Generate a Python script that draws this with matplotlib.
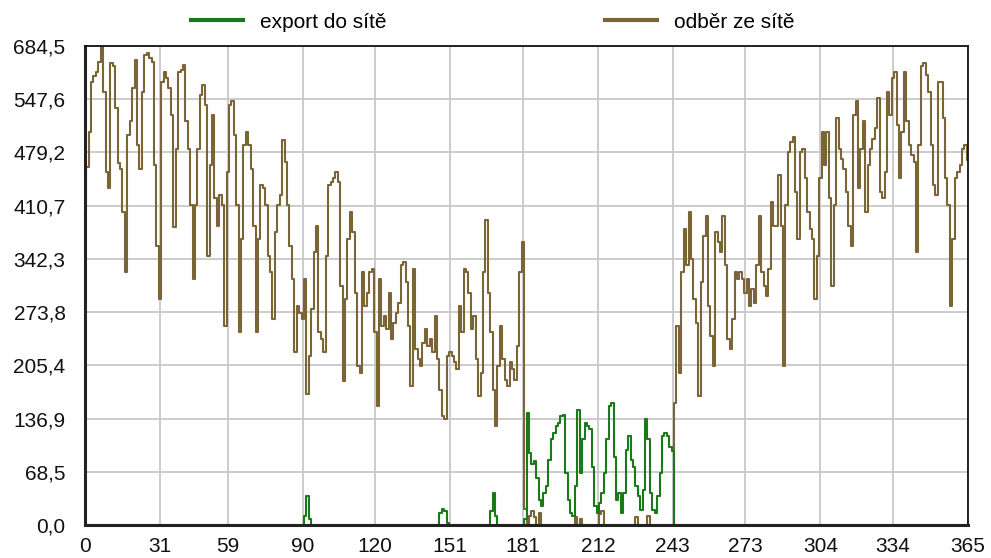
import numpy as np
import matplotlib.pyplot as plt
from matplotlib.lines import Line2D

plt.rcParams['font.family'] = ['Liberation Sans', 'DejaVu Sans']

# day of year 0..365
days = list(range(366))

# odber ze site (grid draw), one value per day
odber = [
    405, 460, 505, 570, 577, 583, 596, 616, 557, 454,
    433, 594, 590, 536, 465, 458, 402, 325, 501, 519,
    562, 598, 489, 458, 557, 605, 607, 600, 596, 463,
    359, 291, 570, 583, 575, 562, 527, 383, 484, 583,
    585, 592, 519, 484, 411, 316, 411, 484, 553, 566,
    540, 346, 463, 527, 420, 385, 424, 411, 256, 454,
    540, 545, 501, 411, 248, 368, 489, 506, 489, 458,
    385, 248, 368, 437, 433, 411, 346, 325, 265, 377,
    411, 424, 495, 467, 411, 359, 316, 222, 282, 273,
    265, 316, 168, 217, 278, 351, 385, 248, 239, 222,
    346, 437, 441, 446, 454, 441, 308, 185, 291, 368,
    402, 377, 299, 204, 196, 325, 282, 299, 325, 329,
    248, 153, 316, 256, 269, 252, 299, 239, 260, 273,
    286, 334, 338, 312, 256, 179, 329, 226, 213, 204,
    234, 252, 230, 239, 222, 269, 213, 174, 140, 136,
    217, 222, 217, 209, 200, 282, 248, 329, 325, 299,
    252, 269, 213, 166, 196, 325, 392, 299, 248, 174,
    127, 204, 256, 213, 187, 179, 209, 200, 187, 230,
    325, 364, 20, 0, 12, 18, 10, 0, 15, 0,
    0, 0, 0, 0, 0, 0, 0, 0, 0, 0,
    0, 0, 0, 10, 0, 8, 0, 0, 0, 0,
    0, 0, 0, 14, 18, 0, 0, 0, 0, 0,
    0, 0, 0, 0, 0, 0, 0, 0, 10, 0,
    0, 0, 0, 12, 0, 0, 0, 0, 0, 0,
    0, 0, 0, 0, 157, 256, 196, 325, 381, 334,
    402, 342, 291, 260, 166, 312, 372, 398, 282, 243,
    204, 377, 364, 351, 398, 334, 239, 226, 265, 325,
    316, 325, 316, 299, 316, 282, 303, 286, 334, 398,
    325, 308, 295, 329, 415, 385, 385, 450, 385, 204,
    411, 480, 493, 499, 428, 368, 480, 484, 446, 402,
    381, 368, 291, 346, 446, 506, 463, 506, 420, 308,
    411, 523, 484, 471, 458, 428, 385, 359, 527, 545,
    433, 484, 519, 402, 463, 484, 497, 510, 549, 428,
    420, 454, 557, 527, 575, 583, 514, 446, 506, 583,
    519, 489, 476, 467, 351, 489, 590, 594, 579, 557,
    489, 437, 424, 570, 570, 523, 446, 411, 282, 368,
    446, 454, 463, 484, 489, 470,
]

# export do site - only days with non-zero values
export_days = [91, 92, 93,
               147, 148, 149, 150,
               168, 169, 170,
               182, 183, 184, 185, 186, 187, 188, 189,
               190, 191, 192, 193, 194, 195, 196, 197, 198, 199,
               200, 201, 202, 203, 204, 205, 206, 207, 208, 209,
               210, 211, 212, 213, 214, 215, 216, 217, 218, 219,
               220, 221, 222, 223, 224, 225, 226, 227, 228, 229,
               230, 231, 232, 233, 234, 235, 236, 237, 238, 239,
               240, 241, 242, 243]
export_vals = [12, 37, 8,
               15, 21, 18, 3,
               18, 41, 12,
               8, 144, 93, 79, 82, 60, 32, 24,
               41, 50, 84, 110, 118, 127, 131, 140, 142, 67,
               32, 15, 11, 50, 148, 67, 110, 131, 127, 123,
               75, 24, 15, 28, 41, 67, 110, 153, 157, 88,
               32, 41, 15, 41, 97, 114, 84, 75, 50, 37,
               19, 45, 136, 110, 41, 19, 15, 37, 67, 114,
               118, 114, 100, 95]

x_ticks = [0, 31, 59, 90, 120, 151, 181, 212, 243, 273, 304, 334, 365]
y_ticks = [0, 68.45, 136.9, 205.35, 273.8, 342.25, 410.7, 479.15, 547.6, 616.05]
y_labels = ['0,0', '68,5', '136,9', '205,4', '273,8', '342,3', '410,7',
            '479,2', '547,6', '684,5']

export = np.zeros(len(days))
export[export_days] = export_vals

brown = '#7a6536'
green = '#1a7a1a'

fig = plt.figure(figsize=(9.91, 5.58), dpi=100)
ax = fig.add_axes([85 / 991, 1 - 525 / 558, (968 - 85) / 991, (525 - 46) / 558])

ax.plot(days, odber, drawstyle='steps-mid', color=brown, lw=1.5)
ax.plot(days, export, drawstyle='steps-mid', color=green, lw=1.5)

ax.set_xlim(0, 365)
ax.set_ylim(0, 616.05)
ax.set_xticks(x_ticks)
ax.set_xticklabels([str(t) for t in x_ticks])
ax.set_yticks(y_ticks)
ax.set_yticklabels(y_labels)
ax.grid(color='#c8c8c8', lw=1.3)
ax.set_axisbelow(True)
ax.tick_params(length=0, labelsize=15, colors='#111111')
ax.tick_params(axis='y', pad=14)
ax.tick_params(axis='x', pad=9)

for side in ['left', 'bottom']:
    ax.spines[side].set_linewidth(2.2)
    ax.spines[side].set_color('#222222')
for side in ['top', 'right']:
    ax.spines[side].set_linewidth(1.3)
    ax.spines[side].set_color('#111111')

handles = [Line2D([], [], color=green, lw=3),
           Line2D([], [], color=brown, lw=3)]
fig.legend(handles, ['export do sítě', 'odběr ze sítě'],
           loc='center', bbox_to_anchor=(0.497, 1 - 22 / 558), ncol=2,
           frameon=False, fontsize=15, handlelength=2.5, handletextpad=0.8,
           columnspacing=10.5)

fig.savefig('out.png', dpi=100)
